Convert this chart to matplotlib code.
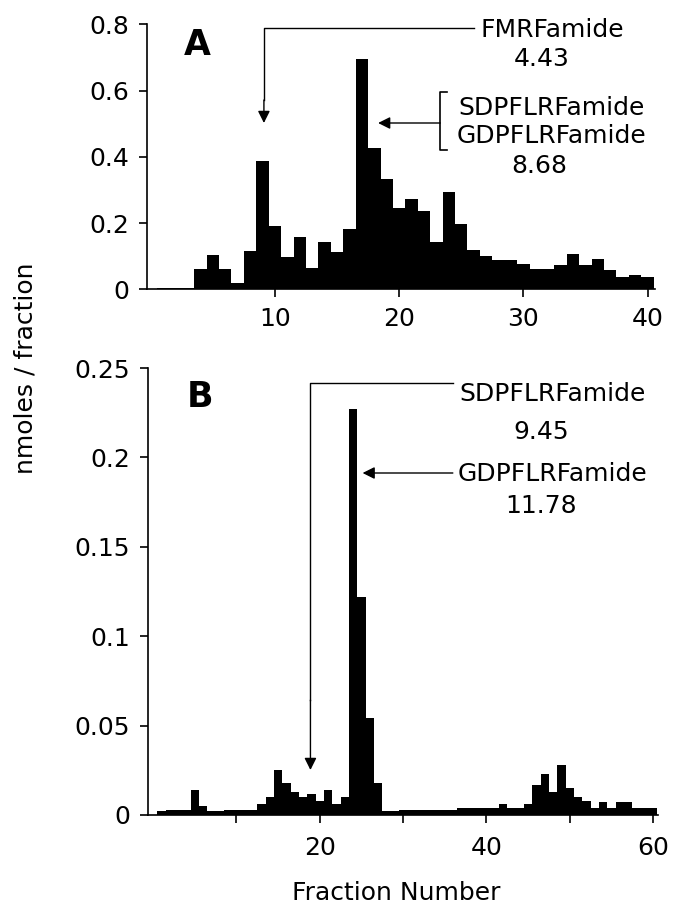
import matplotlib
matplotlib.use("Agg")
import matplotlib.pyplot as plt
import numpy as np

# ---------------- data ----------------
fractions_a = list(range(1, 41))
values_a = [0.005, 0.005, 0.005, 0.06, 0.103, 0.06, 0.02, 0.115, 0.387, 0.19,
            0.096, 0.159, 0.064, 0.142, 0.114, 0.181, 0.696, 0.426, 0.332, 0.244,
            0.273, 0.236, 0.144, 0.293, 0.198, 0.12, 0.101, 0.088, 0.087, 0.075,
            0.062, 0.062, 0.074, 0.106, 0.072, 0.09, 0.057, 0.037, 0.043, 0.037]

fractions_b = list(range(1, 61))
values_b = [0.002, 0.003, 0.003, 0.003, 0.014, 0.005, 0.002, 0.002, 0.003, 0.003,
            0.003, 0.003, 0.006, 0.010, 0.025, 0.018, 0.013, 0.010, 0.012, 0.008,
            0.014, 0.006, 0.010, 0.227, 0.122, 0.054, 0.018, 0.002, 0.002, 0.003,
            0.003, 0.003, 0.003, 0.003, 0.003, 0.003, 0.004, 0.004, 0.004, 0.004,
            0.004, 0.006, 0.004, 0.004, 0.006, 0.017, 0.023, 0.013, 0.028, 0.015,
            0.010, 0.008, 0.004, 0.007, 0.004, 0.007, 0.007, 0.004, 0.004, 0.004]

yticks_a = [0, 0.2, 0.4, 0.6, 0.8]
yticklabels_a = ["0", "0.2", "0.4", "0.6", "0.8"]
xticks_a = [10, 20, 30, 40]
xticklabels_a = ["10", "20", "30", "40"]

yticks_b = [0, 0.05, 0.1, 0.15, 0.2, 0.25]
yticklabels_b = ["0", "0.05", "0.1", "0.15", "0.2", "0.25"]
xticks_b = [10, 20, 30, 40, 50, 60]
xticklabels_b = ["", "20", "", "40", "", "60"]

W, H = 673, 916
plt.rcParams['font.family'] = ['DejaVu Sans']
fig = plt.figure(figsize=(W / 100, H / 100), dpi=100)

FS = 18

def px_axes(left, right, top, bottom):
    return fig.add_axes([left / W, 1 - bottom / H, (right - left) / W, (bottom - top) / H])

def style(ax):
    for s in ("top", "right"):
        ax.spines[s].set_visible(False)
    for s in ("left", "bottom"):
        ax.spines[s].set_linewidth(1.2)
    ax.tick_params(direction="out", length=6, width=1.2, labelsize=FS, pad=7)

# ---------------- panel A ----------------
axA = px_axes(147, 655, 24.3, 289.3)
axA.bar(fractions_a, values_a, width=1.0, color="black", linewidth=0)
axA.set_xlim(-0.3, 40.6)
axA.set_ylim(0, 0.8)
axA.set_yticks(yticks_a)
axA.set_yticklabels(yticklabels_a)
axA.set_xticks(xticks_a)
axA.set_xticklabels(xticklabels_a)
style(axA)

def a_xy(px, py):
    return ((px - 151) / 12.4, (289.3 - py) / 331.25)

tkw = dict(fontsize=FS, ha="center", va="center", clip_on=False)
arrow_kw = dict(arrowstyle="-|>", color="black", lw=1, mutation_scale=18, shrinkA=0, shrinkB=0)

axA.text(*a_xy(197, 45), "A", fontsize=25, fontweight="bold", ha="center", va="center")
# FMRFamide pointer
x0, y0 = a_xy(264, 28)
x1, _ = a_xy(474, 28)
_, ytip = a_xy(264, 123)
_, ymid = a_xy(264, 100)
axA.plot([x1, x0, x0], [y0, y0, ymid], color="black", lw=1, clip_on=False)
axA.annotate("", xy=(x0, ytip), xytext=(x0, ymid), arrowprops=arrow_kw, annotation_clip=False)
axA.text(*a_xy(552, 30), "FMRFamide", **tkw)
axA.text(*a_xy(541, 59), "4.43", **tkw)
axA.text(*a_xy(551, 108), "SDPFLRFamide", **tkw)
axA.text(*a_xy(551, 136), "GDPFLRFamide", **tkw)
axA.text(*a_xy(539, 166), "8.68", **tkw)
# bracket
bx0, by0 = a_xy(447, 92)
bx1, by1 = a_xy(440, 150)
axA.plot([bx0, bx1, bx1, bx0], [by0, by0, by1, by1], color="black", lw=1.2, clip_on=False)
ax_s, ay_s = a_xy(440, 123)
ax_t, _ = a_xy(378, 123)
axA.annotate("", xy=(ax_t, ay_s), xytext=(ax_s, ay_s), arrowprops=arrow_kw, annotation_clip=False)

# ---------------- panel B ----------------
axB = px_axes(148, 658, 368, 815)
axB.bar(fractions_b, values_b, width=1.0, color="black", linewidth=0)
axB.set_xlim(-0.6, 60.6)
axB.set_ylim(0, 0.25)
axB.set_yticks(yticks_b)
axB.set_yticklabels(yticklabels_b)
axB.set_xticks(xticks_b)
axB.set_xticklabels(xticklabels_b)
style(axB)
axB.tick_params(axis="x", pad=9)

def b_xy(px, py):
    return ((px - 153) / 8.31, (815 - py) / 1788.0)

axB.text(*b_xy(200, 397), "B", fontsize=25, fontweight="bold", ha="center", va="center")
hx0, hy = b_xy(310, 383)
hx1, _ = b_xy(452, 383)
_, vtip = b_xy(310, 770)
_, vmid = b_xy(310, 700)
axB.plot([hx1, hx0, hx0], [hy, hy, vmid], color="black", lw=1, clip_on=False)
axB.annotate("", xy=(hx0, vtip), xytext=(hx0, vmid), arrowprops=arrow_kw, annotation_clip=False)
axB.text(*b_xy(551, 394), "SDPFLRFamide", **tkw)
axB.text(*b_xy(540, 432), "9.45", **tkw)
axB.text(*b_xy(551, 474), "GDPFLRFamide", **tkw)
axB.text(*b_xy(540, 506), "11.78", **tkw)
gx0, gy = b_xy(452, 473)
gx1, _ = b_xy(362, 473)
axB.annotate("", xy=(gx1, gy), xytext=(gx0, gy), arrowprops=arrow_kw, annotation_clip=False)

# ---------------- shared labels ----------------
fig.text(26 / W, 1 - 368 / H, "nmoles / fraction", rotation=90, fontsize=FS,
         ha="center", va="center")
fig.text(396 / W, 1 - 893 / H, "Fraction Number", fontsize=FS, ha="center", va="center")

fig.savefig("out.png", dpi=100)
